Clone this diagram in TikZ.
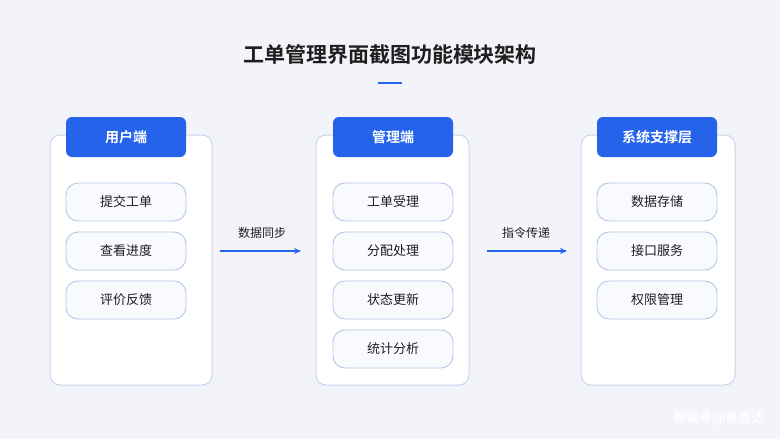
\documentclass[tikz,border=0pt]{standalone}
\usepackage{fontspec}
\setmainfont{Noto Sans CJK SC}
\newfontfamily\cjkb{Noto Sans CJK SC Bold}
\usetikzlibrary{arrows.meta}
\definecolor{bg}{HTML}{F2F4F9}
\definecolor{mainblue}{HTML}{2563EB}
\definecolor{panelline}{HTML}{C8D5EE}
\definecolor{itemline}{HTML}{B5C6E6}
\definecolor{itemfill}{HTML}{F8FAFE}
\definecolor{txt}{HTML}{1E1E1E}
\tikzset{
 panel/.style={draw=panelline,fill=white,rounded corners=10pt,line width=1pt},
 header/.style={fill=mainblue,rounded corners=6pt,minimum width=120pt,minimum height=40pt,text=white,font=\cjkb\fontsize{14}{16}\selectfont},
 item/.style={draw=itemline,fill=itemfill,rounded corners=12pt,line width=0.9pt,minimum width=120pt,minimum height=38pt,text=txt,font=\fontsize{13}{15}\selectfont},
 flow/.style={-{Stealth[length=7pt,width=6pt]},draw=mainblue,line width=1.2pt},
 lbl/.style={text=txt,font=\fontsize{12}{14}\selectfont}
}
\begin{document}
\begin{tikzpicture}[x=1pt,y=-1pt]
\fill[bg] (0,0) rectangle (780,439);
\useasboundingbox (0,0) rectangle (780,439);
\node[font=\cjkb\fontsize{21}{24}\selectfont,text=txt] (title) at (390,55) {工单管理界面截图功能模块架构};
\draw[mainblue,line width=2.5pt] (378,83) -- (402,83);
% panels
\draw[panel] (50,135) rectangle (212,385);
\draw[panel] (316,135) rectangle (469,385);
\draw[panel] (581,135) rectangle (735,385);
\node[header] (h1) at (126,137) {用户端};
\node[header] (h2) at (393,137) {管理端};
\node[header] (h3) at (657,137) {系统支撑层};
\node[item] (a1) at (126,202) {提交工单};
\node[item] (a2) at (126,251) {查看进度};
\node[item] (a3) at (126,300) {评价反馈};
\node[item] (b1) at (393,202) {工单受理};
\node[item] (b2) at (393,251) {分配处理};
\node[item] (b3) at (393,300) {状态更新};
\node[item] (b4) at (393,349) {统计分析};
\node[item] (c1) at (657,202) {数据存储};
\node[item] (c2) at (657,251) {接口服务};
\node[item] (c3) at (657,300) {权限管理};
\coordinate (p1) at (220,251); \coordinate (q1) at (301,251);
\coordinate (p2) at (487,251); \coordinate (q2) at (567,251);
\draw[flow] (p1) -- (q1);
\draw[flow] (p2) -- (q2);
\node[lbl] (l1) at (262,233) {数据同步};
\node[lbl] (l2) at (526,233) {指令传递};
\node[text=white,font=\cjkb\fontsize{13}{15}\selectfont,anchor=east] (wm) at (768,418) {搜狐号@售意达};
\end{tikzpicture}
\end{document}
